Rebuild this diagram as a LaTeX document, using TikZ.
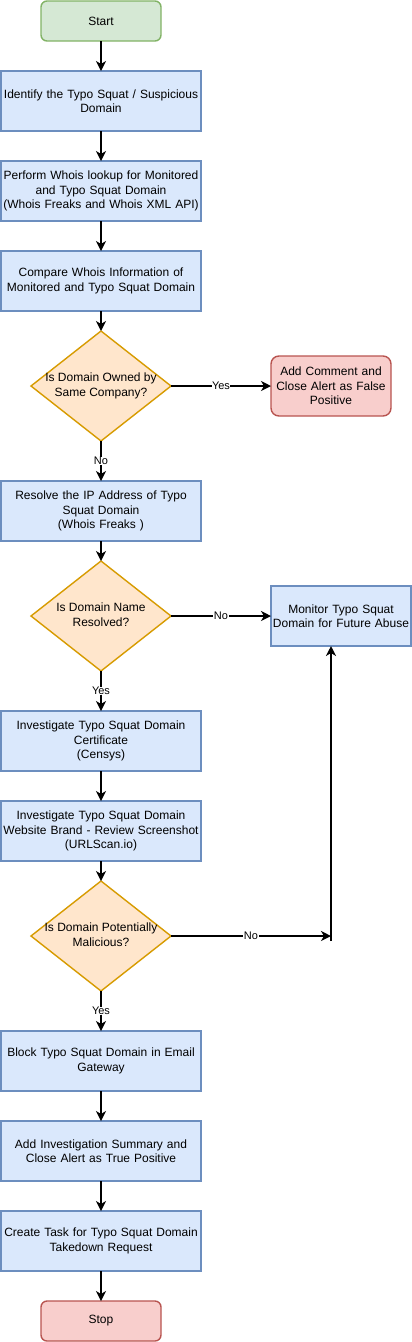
\documentclass[tikz,border=0pt]{standalone}
\usepackage{fontspec}
\setmainfont{Liberation Sans}
\usetikzlibrary{shapes.geometric,arrows.meta}
\definecolor{bfill}{HTML}{DAE8FC}\definecolor{bline}{HTML}{6C8EBF}
\definecolor{ofill}{HTML}{FFE6CC}\definecolor{oline}{HTML}{D79B00}
\definecolor{rfill}{HTML}{F8CECC}\definecolor{rline}{HTML}{B85450}
\definecolor{gfill}{HTML}{D5E8D4}\definecolor{gline}{HTML}{82B366}
\tikzset{
  base/.style={inner sep=0pt,outer sep=0pt,line width=1.4pt,align=center,font=\fontsize{12}{14.4}\selectfont},
  procbox/.style={base,rectangle,draw=bline,fill=bfill,minimum width=200pt,minimum height=60pt,text width=196pt},
  termgreen/.style={base,rectangle,rounded corners=6pt,draw=gline,fill=gfill,minimum width=120pt,minimum height=40pt},
  termred/.style={base,rectangle,rounded corners=6pt,draw=rline,fill=rfill,minimum width=120pt,minimum height=40pt},
  alertbox/.style={base,rectangle,rounded corners=8pt,draw=rline,fill=rfill,minimum width=120pt,minimum height=60pt,text width=118pt},
  monbox/.style={base,rectangle,draw=bline,fill=bfill,minimum width=140pt,minimum height=60pt,text width=138pt},
  decision/.style={base,diamond,draw=oline,fill=ofill,minimum width=140pt,minimum height=110pt},
  flow/.style={line width=1.4pt,-{Stealth[length=10pt,width=10pt,inset=3pt]}},
  lbl/.style={fill=white,inner sep=0.5pt,font=\fontsize{11}{13}\selectfont}
}
\newcommand{\dtext}[2]{\makebox[0pt]{\begin{tabular}{@{}c@{}}#1\\#2\end{tabular}}}
\begin{document}
\begin{tikzpicture}[x=1pt,y=-1pt]
\useasboundingbox (0,0) rectangle (412,1342);
\node[termgreen] (start) at (101,21) {Start};
\node[procbox] (b1) at (101,101) {Identify the Typo Squat / Suspicious\\Domain};
\node[procbox] (b2) at (101,191) {Perform Whois lookup for Monitored\\and Typo Squat Domain\\(Whois Freaks and Whois XML API)};
\node[procbox] (b3) at (101,281) {Compare Whois Information of\\Monitored and Typo Squat Domain};
\node[decision] (d1) at (101,386) {\dtext{Is Domain Owned by}{Same Company?}};
\node[alertbox] (r1) at (331,386) {Add Comment and\\Close Alert as False\\Positive};
\node[procbox] (b4) at (101,511) {Resolve the IP Address of Typo\\Squat Domain\\(Whois Freaks )};
\node[decision] (d2) at (101,616) {\dtext{Is Domain Name}{Resolved?}};
\node[monbox] (mon) at (341,616) {Monitor Typo Squat\\Domain for Future Abuse};
\node[procbox] (b5) at (101,741) {Investigate Typo Squat Domain\\Certificate\\(Censys)};
\node[procbox] (b6) at (101,831) {Investigate Typo Squat Domain\\Website Brand - Review Screenshot\\(URLScan.io)};
\node[decision] (d3) at (101,936) {\dtext{Is Domain Potentially}{Malicious?}};
\node[procbox] (b7) at (101,1061) {Block Typo Squat Domain in Email\\Gateway};
\node[procbox] (b8) at (101,1151) {Add Investigation Summary and\\Close Alert as True Positive};
\node[procbox] (b9) at (101,1241) {Create Task for Typo Squat Domain\\Takedown Request};
\node[termred] (stop) at (101,1321) {Stop};
\coordinate (j) at (331,936);
\coordinate (j2) at (331,941);

\draw[flow] (start) -- (b1);
\draw[flow] (b1) -- (b2);
\draw[flow] (b2) -- (b3);
\draw[flow] (b3) -- (d1);
\draw[flow] (d1.east) -- node[lbl]{Yes} (r1.west);
\draw[flow] (d1.south) -- node[lbl]{No} (b4.north);
\draw[flow] (b4) -- (d2);
\draw[flow] (d2.east) -- node[lbl]{No} (mon.west |- d2.east);
\draw[flow] (d2.south) -- node[lbl]{Yes} (b5.north);
\draw[flow] (b5) -- (b6);
\draw[flow] (b6) -- (d3);
\draw[flow] (d3.east) -- node[lbl]{No} (j);
\draw[flow] (j2) -- (j2 |- mon.south);
\draw[flow] (d3.south) -- node[lbl]{Yes} (b7.north);
\draw[flow] (b7) -- (b8);
\draw[flow] (b8) -- (b9);
\draw[flow] (b9) -- (stop);
\end{tikzpicture}
\end{document}
